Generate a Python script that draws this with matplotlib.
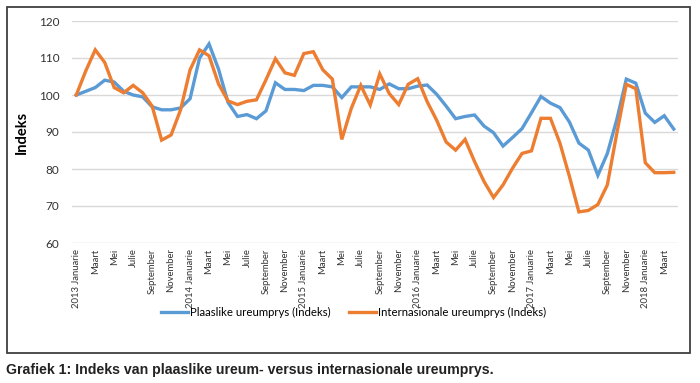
import numpy as np
import matplotlib
matplotlib.use('Agg')
import matplotlib.pyplot as plt
from matplotlib import font_manager
from matplotlib.patches import Rectangle

names = {f.name for f in font_manager.fontManager.ttflist}
narrow = 'Liberation Sans Narrow' if 'Liberation Sans Narrow' in names else 'Liberation Sans'
plt.rcParams['font.family'] = ['Lato', 'DejaVu Sans']

# maande (Jan 2013 - Apr 2018)
maande = ['Januarie', 'Februarie', 'Maart', 'April', 'Mei', 'Junie', 'Julie',
          'Augustus', 'September', 'Oktober', 'November', 'Desember']
jare = [2013, 2014, 2015, 2016, 2017, 2018]

plaaslik = [100, 101, 102, 104, 103.5, 101, 100, 99.5, 96.8, 96, 96, 96.5,
            99, 110, 113.8, 107, 98, 94.2, 94.7, 93.6, 95.7, 103.3, 101.5, 101.5,
            101.2, 102.6, 102.6, 102.2, 99.3, 102.2, 102.2, 102.2, 101.5, 103, 101.7, 101.7,
            102.4, 102.7, 100.2, 97, 93.6, 94.2, 94.6, 91.6, 89.8, 86.2, 88.5, 90.9,
            95.2, 99.6, 97.8, 96.6, 92.7, 87, 85.1, 78.3, 84.2, 93.4, 104.3, 103.2,
            95.1, 92.6, 94.4, 90.8]
internasionaal = [100, 106.5, 112.2, 108.8, 102, 100.6, 102.6, 100.6, 97, 87.8, 89.2, 96,
                  106.8, 112.2, 110.6, 103, 98.4, 97.4, 98.3, 98.7, 104.1, 109.8, 106, 105.3,
                  111.2, 111.7, 106.8, 104.3, 88, 96.4, 102.6, 97.3, 105.7, 100.4, 97.4, 102.9,
                  104.4, 98.2, 93.2, 87.3, 85.1, 88, 82, 76.6, 72.3, 75.7, 80.2, 84.2,
                  84.9, 93.7, 93.7, 87, 78, 68.4, 68.8, 70.4, 75.7, 89.7, 102.9, 101.7,
                  81.7, 79, 79, 79.1]

n = len(plaaslik)
etikette = []
for i in range(n):
    j, m = divmod(i, 12)
    etikette.append(f'{jare[j]} {maande[m]}' if m == 0 else maande[m])

blou = '#5B9BD5'
oranje = '#ED7D31'

fig = plt.figure(figsize=(7, 3.83), dpi=100)
W, H = 700, 383
ax = fig.add_axes([72 / W, 1 - 243 / H, (678 - 72) / W, (243 - 21) / H])

x = np.arange(n)
l1, = ax.plot(x, plaaslik, color=blou, lw=2.4, solid_joinstyle='miter', label='Plaaslike ureumprys (Indeks)')
l2, = ax.plot(x, internasionaal, color=oranje, lw=2.4, solid_joinstyle='miter', label='Internasionale ureumprys (Indeks)')

ax.set_xlim(-0.45, n - 0.55)
ax.set_ylim(60, 120)
ax.set_yticks(range(60, 121, 10))
ax.yaxis.grid(True, color='#D9D9D9', lw=1)
ax.set_axisbelow(True)
for s in ax.spines.values():
    s.set_visible(False)
ax.tick_params(length=0)
ax.tick_params(axis='y', labelsize=8.5, colors='#333333', pad=9)
ax.set_xticks(x[::2])
ax.set_xticklabels(etikette[::2], rotation=90, fontsize=6.8, color='#333333')
ax.tick_params(axis='x', pad=4)
ax.set_ylabel('Indeks', fontsize=10.5, fontweight='bold', labelpad=7)

fig.legend(handles=[l1, l2], loc='center', bbox_to_anchor=(0.505, 1 - 312 / H), ncol=2,
           frameon=False, fontsize=8.2, handlelength=2.4, handletextpad=0.15, columnspacing=1.6)

fig.patches.append(Rectangle((7 / W, 1 - 353 / H), (690 - 7) / W, (353 - 7) / H,
                             transform=fig.transFigure, fill=False, edgecolor='#404040', lw=1.3))

fig.text(6 / W, 1 - 370 / H, 'Grafiek 1: Indeks van plaaslike ureum- versus internasionale ureumprys.',
         family=narrow, fontweight='bold', fontsize=10.2, va='center', ha='left', color='#222222')

fig.savefig('out.png', dpi=100)
